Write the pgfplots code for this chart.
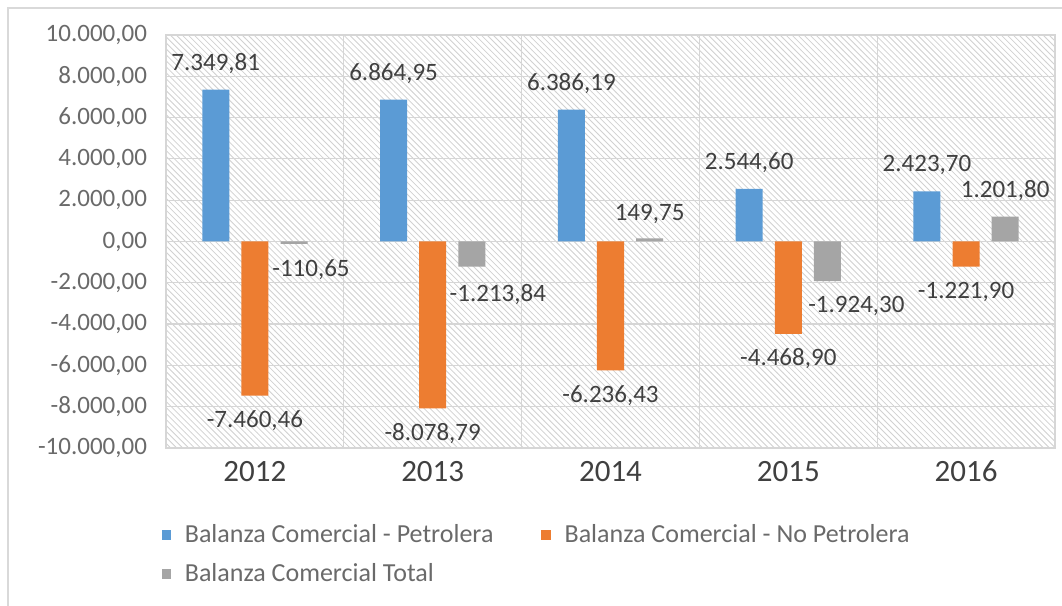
\documentclass[border=0pt]{standalone}
\usepackage{fontspec}
\setmainfont{Carlito}
\usepackage{pgfplots}
\pgfplotsset{compat=1.18}
\usetikzlibrary{patterns}

\definecolor{cBlue}{HTML}{5B9BD5}
\definecolor{cOrange}{HTML}{ED7D31}
\definecolor{cGray}{HTML}{A5A5A5}
\definecolor{txtDark}{HTML}{404040}
\definecolor{txtGray}{HTML}{6A6A6A}
\definecolor{gridc}{HTML}{D6D6D6}

\newcommand\lbl{\fontsize{12.5bp}{15bp}\selectfont}

\begin{document}
\begin{tikzpicture}
\path[use as bounding box] (0,0) rectangle (531bp,303bp);
\draw[black!15, line width=1bp] (4bp,0) -- (4bp,299bp) -- (531bp,299bp);

\begin{axis}[
  at={(83bp,79bp)}, anchor=south west,
  width=444.5bp, height=206.5bp, scale only axis,
  xmin=-0.5, xmax=4.5, ymin=-10000, ymax=10000,
  ybar, bar width=0.152,
  xtick={0,1,2,3,4},
  xticklabels={2012,2013,2014,2015,2016},
  minor xtick={-0.5,0.5,...,4.5},
  ytick={-10000,-8000,...,10000},
  yticklabels={{-10.000,00},{-8.000,00},{-6.000,00},{-4.000,00},{-2.000,00},{0,00},{2.000,00},{4.000,00},{6.000,00},{8.000,00},{10.000,00}},
  scaled y ticks=false,
  major tick length=0pt, minor tick length=0pt,
  ymajorgrids=true, xminorgrids=true,
  grid style={draw=gridc, line width=0.6bp},
  minor grid style={draw=gridc, line width=0.6bp},
  axis line style={draw=gridc, line width=0.6bp},
  axis background/.style={pattern=north west lines, pattern color=black!18},
  yticklabel style={font=\lbl, text=txtGray, xshift=-6bp},
  xticklabel style={font=\fontsize{15.5bp}{18bp}\selectfont, text=txtDark, yshift=-3bp},
  legend style={at={(axis description cs:-0.012,-0.165)}, anchor=north west,
    draw=none, fill=none, legend columns=2,
    /tikz/every odd column/.append style={column sep=5bp},
    /tikz/every even column/.append style={column sep=22bp},
    row sep=5bp,
    nodes={font=\fontsize{13bp}{15bp}\selectfont, text=txtGray}},
  legend cell align=left,
  sq/.style={legend image code/.code={\fill[##1] (0bp,-2.3bp) rectangle (4.6bp,2.3bp);}},
]
\addplot[fill=cBlue, draw=none, bar shift=-0.22, sq] coordinates
  {(0,7349.81) (1,6864.95) (2,6386.19) (3,2544.60) (4,2423.70)};
\addlegendentry{Balanza Comercial - Petrolera}
\addplot[fill=cOrange, draw=none, bar shift=0, sq] coordinates
  {(0,-7460.46) (1,-8078.79) (2,-6236.43) (3,-4468.90) (4,-1221.90)};
\addlegendentry{Balanza Comercial - No Petrolera}
\addplot[fill=cGray, draw=none, bar shift=0.22, sq] coordinates
  {(0,-110.65) (1,-1213.84) (2,149.75) (3,-1924.30) (4,1201.80)};
\addlegendentry{Balanza Comercial Total}

% data labels
\begin{scope}[every node/.style={font=\lbl, text=txtDark, inner sep=0pt}]
\node[yshift=13bp] at (axis cs:-0.22,7349.81) {7.349,81};
\node[yshift=13bp] at (axis cs:0.78,6864.95) {6.864,95};
\node[yshift=13bp] at (axis cs:1.78,6386.19) {6.386,19};
\node[yshift=13bp] at (axis cs:2.78,2544.60) {2.544,60};
\node[yshift=13bp] at (axis cs:3.78,2423.70) {2.423,70};
\node[yshift=-12.5bp] at (axis cs:0,-7460.46) {-7.460,46};
\node[yshift=-12.5bp] at (axis cs:1,-8078.79) {-8.078,79};
\node[yshift=-12.5bp] at (axis cs:2,-6236.43) {-6.236,43};
\node[yshift=-12.5bp] at (axis cs:3,-4468.90) {-4.468,90};
\node[yshift=-12.5bp] at (axis cs:4,-1221.90) {-1.221,90};
\node[yshift=-13bp, xshift=8.5bp] at (axis cs:0.22,-110.65) {-110,65};
\node[yshift=-14bp, xshift=13bp] at (axis cs:1.22,-1213.84) {-1.213,84};
\node[yshift=12bp] at (axis cs:2.22,149.75) {149,75};
\node[yshift=-12.5bp, xshift=14.5bp] at (axis cs:3.22,-1924.30) {-1.924,30};
\node[yshift=13bp] at (axis cs:4.22,1201.80) {1.201,80};
\end{scope}
\end{axis}
\end{tikzpicture}
\end{document}
